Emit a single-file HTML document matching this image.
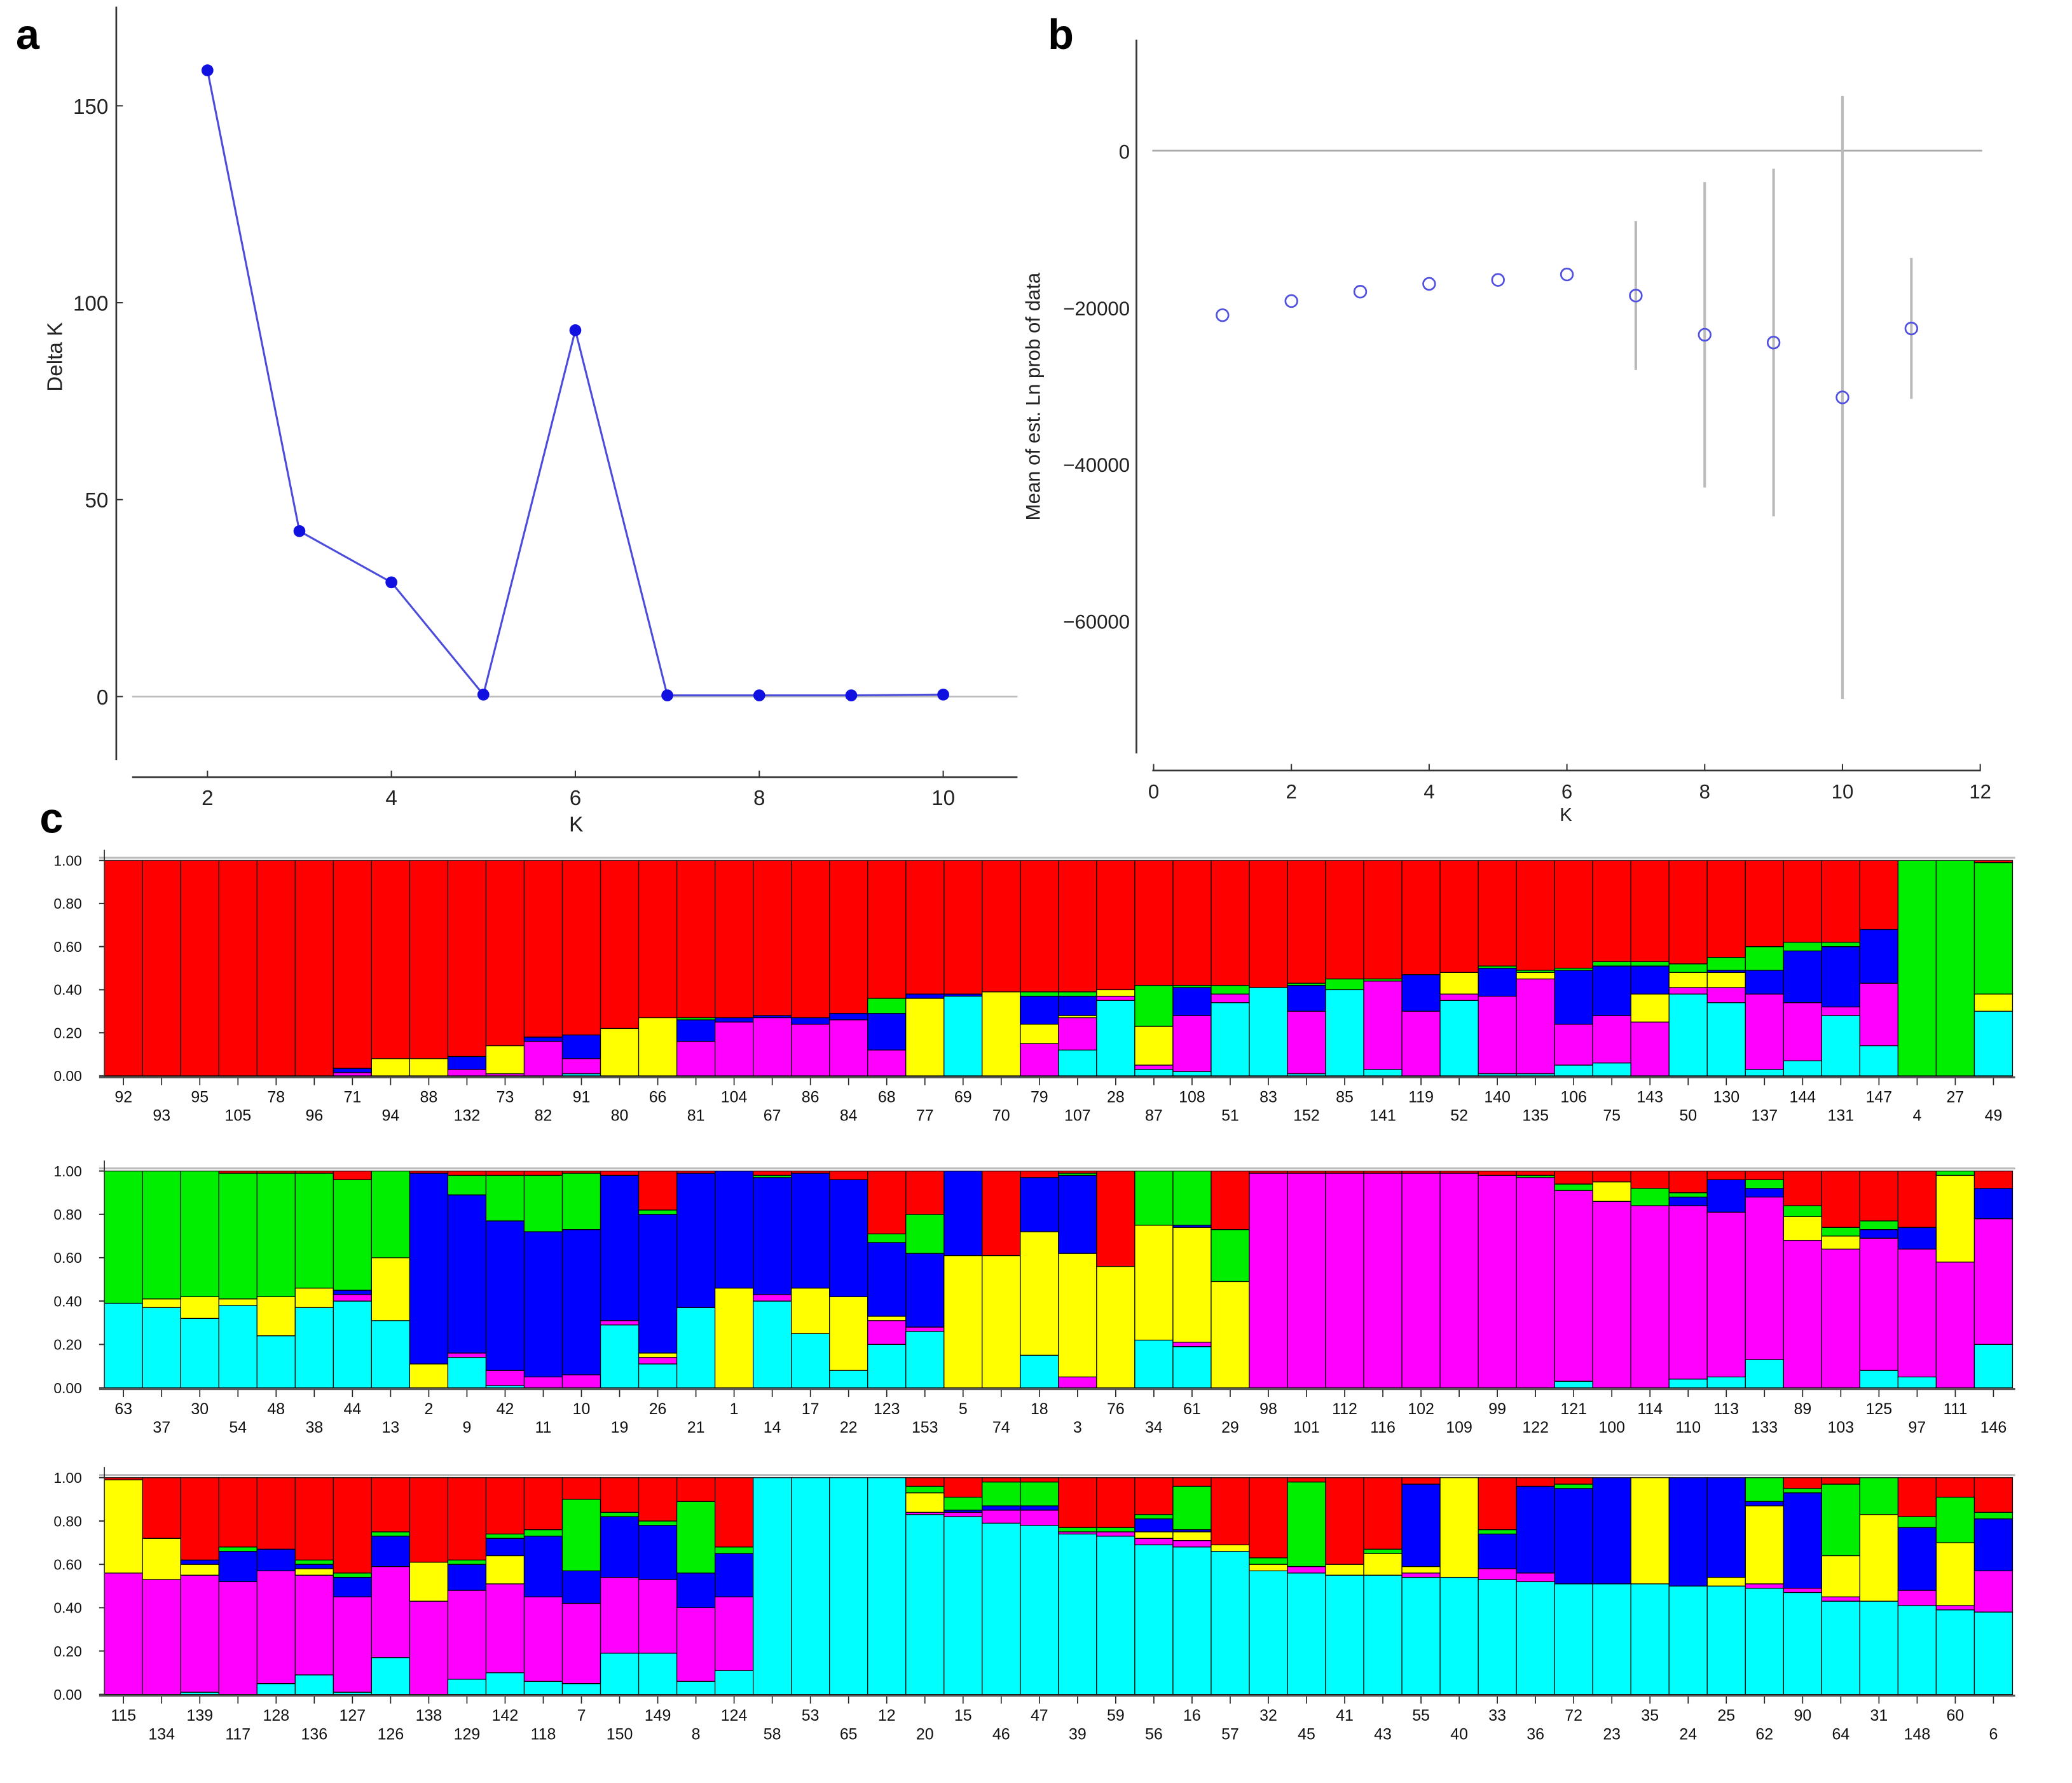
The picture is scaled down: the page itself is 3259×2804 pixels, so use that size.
<!DOCTYPE html>
<html><head><meta charset="utf-8"><style>
html,body{margin:0;padding:0;background:#fff;}
svg{display:block;}
text{font-family:"Liberation Sans",sans-serif;}
</style></head><body>
<svg id="fig" width="3259" height="2804" viewBox="0 0 1568 1349" xmlns="http://www.w3.org/2000/svg">
<rect x="0" y="0" width="1568" height="1349" fill="#fff"/>
<g id="pa"></g>
<g id="pb"></g>
<g id="pc"></g>
</svg>
<script>
// ---- Panel a data ----
const aK = [2,3,4,5,6,7,8,9,10];
const aDelta = [159,42,29,0.5,93,0.3,0.3,0.3,0.5];
const aYTicks = [0,50,100,150];
const aXTicks = [2,4,6,8,10];
// ---- Panel b data ----
const bK = [1,2,3,4,5,6,7,8,9,10,11];
const bMean = [-21000,-19200,-18000,-17000,-16500,-15800,-18500,-23500,-24500,-31500,-22700];
const bErr = [0,0,0,0,0,0,9500,19500,22200,38500,9000];
const bYTicks = [0,-20000,-40000,-60000];
const bXTicks = [0,2,4,6,8,10,12];
// ---- Panel c data ----
const cYTicks = [1.00,0.80,0.60,0.40,0.20,0.00];
const labels1 = [92,93,95,105,78,96,71,94,88,132,73,82,91,80,66,81,104,67,86,84,68,77,69,70,79,107,28,87,108,51,83,152,85,141,119,52,140,135,106,75,143,50,130,137,144,131,147,4,27,49];
const cyan1 = [0,0,0,0,0,0,0,0,0,0, 0,0,.01,0,0,0,0,0,0,0, 0,0,.37,0,0,.12,.35,.03,.02,.34, .41,.01,.40,.03,0,.35,.01,.01,.05,.06, 0,.38,.34,.03,.07,.28,.14,0,0,.30];
const magenta1 = [0,0,0,0,0,0,.015,0,0,.03, .01,.16,.07,0,0,.16,.25,.27,.24,.26, .12,0,0,0,.15,.15,.02,.02,.26,.04, 0,.29,0,.41,.30,.03,.36,.44,.19,.22, .25,.03,.07,.35,.27,.04,.29,0,0,0];
const yellow1 = [0,0,0,0,0,0,0,.08,.08,0, .13,0,0,.22,.27,0,0,0,0,0, 0,.36,0,.39,.09,.01,.03,.18,0,0, 0,0,0,0,0,.10,0,.03,0,0, .13,.07,.07,0,0,0,0,0,0,.08];
const blue1 = [0,0,0,0,0,0,.02,0,0,.06, 0,.02,.11,0,0,.10,.02,.01,.03,.03, .17,.02,.01,0,.13,.09,0,0,.13,0, 0,.12,0,0,.17,0,.13,0,.25,.23, .13,0,.01,.11,.24,.28,.25,0,0,0];
const green1 = [0,0,0,0,0,0,0,0,0,0, 0,0,0,0,0,.01,0,0,0,0, .07,0,0,0,.02,.02,0,.19,.01,.04, 0,.01,.05,.01,0,0,.01,.01,.01,.02, .02,.04,.06,.11,.04,.02,0,1,1,.61];
const red1 = [1,1,1,1,1,1,.965,.92,.92,.91, .86,.82,.81,.78,.73,.73,.73,.72,.73,.71, .64,.62,.62,.61,.61,.61,.60,.58,.58,.58, .59,.57,.55,.55,.53,.52,.49,.51,.50,.47, .47,.48,.45,.40,.38,.38,.32,0,0,.01];

const labels2 = [63,37,30,54,48,38,44,13,2,9,42,11,10,19,26,21,1,14,17,22,123,153,5,74,18,3,76,34,61,29,98,101,112,116,102,109,99,122,121,100,114,110,113,133,89,103,125,97,111,146];
const cyan2 = [.39,.37,.32,.38,.24,.37,.40,.31,0,.14, .01,0,0,.29,.11,.37,0,.40,.25,.08, .20,.26,0,0,.15,0,0,.22,.19,0, 0,0,0,0,0,0,0,0,.03,0, 0,.04,.05,.13,0,0,.08,.05,0,.20];
const magenta2 = [0,0,0,0,0,0,.03,0,0,.02, .07,.05,.06,.02,.03,0,0,.03,0,0, .11,.02,0,0,0,.05,0,0,.02,0, .99,.99,.99,.99,.99,.99,.98,.97,.88,.86, .84,.80,.76,.75,.68,.64,.61,.59,.58,.58];
const yellow2 = [0,.04,.10,.03,.18,.09,0,.29,.11,0, 0,0,0,0,.02,0,.46,0,.21,.34, .02,0,.61,.61,.57,.57,.56,.53,.53,.49, 0,0,0,0,0,0,0,0,0,.09, 0,0,0,0,.11,.06,0,0,.40,0];
const blue2 = [0,0,0,0,0,0,.02,0,.88,.73, .69,.67,.67,.67,.64,.62,.54,.54,.53,.54, .34,.34,.39,0,.25,.36,0,0,.01,0, 0,0,0,0,0,0,0,0,0,0, 0,.04,.15,.04,0,0,.04,.10,0,.14];
const green2 = [.61,.59,.58,.58,.57,.53,.51,.40,0,.09, .21,.26,.26,0,.02,0,0,.01,0,0, .04,.18,0,0,0,.01,0,.25,.25,.24, 0,0,0,0,0,0,0,.01,.03,0, .08,.02,0,.04,.05,.04,.04,0,.02,0];
const red2 = [0,0,0,.01,.01,.01,.04,0,.01,.02, .02,.02,.01,.02,.18,.01,0,.02,.01,.04, .29,.20,0,.39,.03,.01,.44,0,0,.27, .01,.01,.01,.01,.01,.01,.02,.02,.06,.05, .08,.10,.04,.04,.16,.26,.23,.26,0,.08];

const labels3 = [115,134,139,117,128,136,127,126,138,129,142,118,7,150,149,8,124,58,53,65,12,20,15,46,47,39,59,56,16,57,32,45,41,43,55,40,33,36,72,23,35,24,25,62,90,64,31,148,60,6];
const cyan3 = [0,0,.01,0,.05,.09,.01,.17,0,.07, .10,.06,.05,.19,.19,.06,.11,1,1,1, 1,.83,.82,.79,.78,.74,.73,.69,.68,.66, .57,.56,.55,.55,.54,.54,.53,.52,.51,.51, .51,.50,.50,.49,.47,.43,.43,.41,.39,.38];
const magenta3 = [.56,.53,.54,.52,.52,.46,.44,.42,.43,.41, .41,.39,.37,.35,.34,.34,.34,0,0,0, 0,.01,.02,.06,.07,.01,.02,.03,.03,0, 0,.03,0,0,.02,0,.05,.04,0,0, 0,0,0,.02,.02,.02,0,.07,.02,.19];
const yellow3 = [.43,.19,.05,0,0,.03,0,0,.18,0, .13,0,0,0,0,0,0,0,0,0, 0,.09,0,0,0,0,0,.03,.04,.03, .03,0,.05,.10,.03,.46,0,0,0,0, .49,0,.04,.36,0,.19,.40,0,.29,0];
const blue3 = [0,0,.02,.14,.10,.02,.09,.14,0,.12, .08,.28,.15,.28,.25,.16,.20,0,0,0, 0,0,.01,.02,.02,0,0,.06,.01,0, 0,0,0,0,.38,0,.16,.40,.44,.49, 0,.50,.46,.02,.44,0,0,.29,0,.24];
const green3 = [0,0,0,.02,0,.02,.02,.02,0,.02, .02,.03,.33,.02,.02,.33,.03,0,0,0, 0,.03,.06,.11,.11,.02,.02,.02,.20,0, .03,.39,0,.02,0,0,.02,0,.02,0, 0,0,0,.11,.02,.33,.17,.05,.21,.03];
const red3 = [.01,.28,.38,.32,.33,.38,.44,.25,.39,.38, .26,.24,.10,.16,.20,.11,.32,0,0,0, 0,.04,.09,.02,.02,.23,.23,.17,.04,.31, .37,.02,.40,.33,.03,0,.24,.04,.03,0, 0,0,0,0,.05,.03,0,.18,.09,.16];

const NS='http://www.w3.org/2000/svg';
function mk(tag, attrs, parent, txt){
  const e=document.createElementNS(NS,tag);
  for(const k in attrs) e.setAttribute(k, attrs[k]);
  if(txt!==undefined) e.textContent=txt;
  parent.appendChild(e); return e;
}

// ===== Panel a =====
(function(){
  const g=document.getElementById('pa');
  const ax=k=>157+(k-2)*69.6;
  const ay=v=>527-v*2.98;
  let t=mk('text',{x:12,y:37,'font-size':32,'font-weight':'bold'},g,'a');
  
  
  let l=mk('line',{x1:88,y1:5,x2:88,y2:575,stroke:'#333','stroke-width':1.3},g);
  
  
  l=mk('line',{x1:100,y1:588,x2:770,y2:588,stroke:'#333','stroke-width':1.3},g);
  
  
  l=mk('line',{x1:100,y1:ay(0),x2:770,y2:ay(0),stroke:'#bbb','stroke-width':1.3},g);
  
  
  aYTicks.forEach(v=>{
    mk('line',{x1:88,y1:ay(v),x2:93,y2:ay(v),stroke:'#333'},g);
    const tt=mk('text',{x:82,y:ay(v)+6,'font-size':16,'text-anchor':'end',fill:'#222'},g,String(v));
    
    
  });
  aXTicks.forEach(v=>{
    mk('line',{x1:ax(v),y1:588,x2:ax(v),y2:583,stroke:'#333'},g);
    const tt=mk('text',{x:ax(v),y:609,'font-size':16,'text-anchor':'middle',fill:'#222'},g,String(v));
    
    
  });
  t=mk('text',{x:436,y:629,'font-size':16,'text-anchor':'middle',fill:'#222'},g,'K');
  
  
  t=mk('text',{x:0,y:0,'font-size':16,'text-anchor':'middle',fill:'#222',transform:'translate(47,270) rotate(-90)'},g,'Delta K');
  
  
  const pts=aK.map((k,i)=>ax(k)+','+ay(aDelta[i])).join(' ');
  const pl=mk('polyline',{points:pts,fill:'none',stroke:'#4b4bdc','stroke-width':1.5},g);
  
  
  aK.forEach((k,i)=>{
    const c=mk('circle',{cx:ax(k),cy:ay(aDelta[i]),r:4.5,fill:'#1010e0'},g);
    
    
  });
})();

// ===== Panel b =====
(function(){
  const g=document.getElementById('pb');
  const bx=k=>873+k*52.13;
  const by=v=>114-v*(118.5/20000);
  let t=mk('text',{x:793,y:37,'font-size':32,'font-weight':'bold'},g,'b');
  
  
  let l=mk('line',{x1:860,y1:30,x2:860,y2:570,stroke:'#333','stroke-width':1.3},g);
  
  
  l=mk('line',{x1:872,y1:583,x2:1499,y2:583,stroke:'#333','stroke-width':1.3},g);
  
  
  l=mk('line',{x1:872,y1:by(0),x2:1500,y2:by(0),stroke:'#aaa','stroke-width':1.3},g);
  
  
  bYTicks.forEach(v=>{
    const tt=mk('text',{x:855,y:by(v)+6,'font-size':15,'text-anchor':'end',fill:'#222'},g,v===0?'0':'\u2212'+Math.abs(v));
    
    
  });
  bXTicks.forEach(v=>{
    mk('line',{x1:bx(v),y1:583,x2:bx(v),y2:578,stroke:'#333'},g);
    const tt=mk('text',{x:bx(v),y:604,'font-size':15,'text-anchor':'middle',fill:'#222'},g,String(v));
    
    
  });
  t=mk('text',{x:1185,y:621,'font-size':14,'text-anchor':'middle',fill:'#222'},g,'K');
  
  
  t=mk('text',{x:0,y:0,'font-size':15,'text-anchor':'middle',fill:'#222',transform:'translate(787,300) rotate(-90)'},g,'Mean of est. Ln prob of data');
  
  
  bK.forEach((k,i)=>{
    if(bErr[i]>0){
      const e=mk('line',{x1:bx(k),y1:by(bMean[i]+bErr[i]),x2:bx(k),y2:by(bMean[i]-bErr[i]),stroke:'#bbb','stroke-width':2},g);
      
      
    }
    const c=mk('circle',{cx:bx(k),cy:by(bMean[i]),r:4.5,fill:'none',stroke:'#5050e0','stroke-width':1.3},g);
    
    
  });
})();

// ===== Panel c =====
(function(){
  const g=document.getElementById('pc');
  let t=mk('text',{x:30,y:630,'font-size':32,'font-weight':'bold'},g,'c');
  
  
  const rows=[
    {top:651,bot:814,labels:labels1,series:[cyan1,magenta1,yellow1,blue1,green1,red1]},
    {top:886,bot:1050,labels:labels2,series:[cyan2,magenta2,yellow2,blue2,green2,red2]},
    {top:1118,bot:1282,labels:labels3,series:[cyan3,magenta3,yellow3,blue3,green3,red3]}
  ];
  const colors=['#00ffff','#ff00ff','#ffff00','#0000ff','#00ee00','#ff0000'];
  const cnames=['cyan','magenta','yellow','blue','green','red'];
  const X0=79, X1=1523;
  rows.forEach((r,ri)=>{
    const rg=mk('g',{},g);
    
    
    const n=r.labels.length, bw=(X1-X0)/n, H=r.bot-r.top;
    const yy=v=>r.bot-v*H;
    mk('line',{x1:X0-4,y1:r.top-2,x2:X1+2,y2:r.top-2,stroke:'#bbb','stroke-width':1.5},rg);
    cYTicks.forEach(v=>{
      mk('line',{x1:X0-4,y1:yy(v),x2:X0,y2:yy(v),stroke:'#333'},rg);
      const tt=mk('text',{x:62,y:yy(v)+4,'font-size':11,'text-anchor':'end',fill:'#111'},rg,v.toFixed(2));
      
      
    });
    for(let i=0;i<n;i++){
      const x=X0+i*bw;
      let acc=0;
      r.series.forEach((s,si)=>{
        const v=s[i];
        if(v>0){
          const seg=mk('rect',{x:x,y:yy(acc+v),width:bw,height:v*H,fill:colors[si],stroke:'#000','stroke-width':0.6},rg);
          
          
        }
        acc+=v;
      });
      mk('line',{x1:x+bw/2,y1:r.bot+1,x2:x+bw/2,y2:r.bot+7,stroke:'#222','stroke-width':0.8},rg);
      const lb=mk('text',{x:x+bw/2,y:r.bot+(i%2===0?20:34),'font-size':12,'text-anchor':'middle',fill:'#111'},rg,String(r.labels[i]));
      
      
    }
    mk('line',{x1:X0-4,y1:r.bot+1,x2:X1+2,y2:r.bot+1,stroke:'#555','stroke-width':1.5},rg);
    mk('line',{x1:X0,y1:r.top-8,x2:X0,y2:r.bot,stroke:'#333','stroke-width':0.8},rg);
  });
})();
</script>
</body></html>
